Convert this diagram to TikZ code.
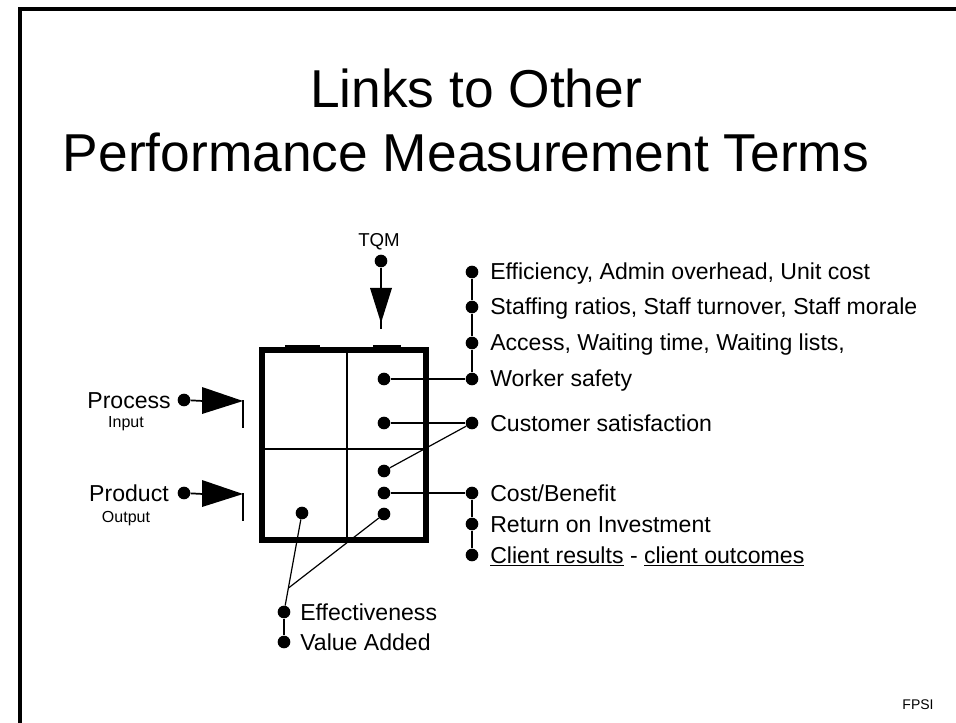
\documentclass[tikz,border=0pt]{standalone}
\usepackage{fontspec}
\setmainfont{Liberation Sans}
\begin{document}
\begin{tikzpicture}[x=0.75pt,y=-0.75pt,
  dot/.style={circle,fill=black,inner sep=0pt,minimum size=9.5pt},
  conn/.style={line width=1.3pt},
  thinconn/.style={line width=0.9pt},
  lbl/.style={inner sep=0pt,anchor=base west,font=\fontsize{17.3}{20}\selectfont},
  lblr/.style={inner sep=0pt,anchor=base east,font=\fontsize{17.3}{20}\selectfont},
  small/.style={inner sep=0pt,font=\fontsize{12}{14}\selectfont},
  titletext/.style={inner sep=0pt,anchor=base,font=\fontsize{40}{48}\selectfont}]
\useasboundingbox (0,0) rectangle (956,723);
\fill[white] (0,0) rectangle (956,723);
% frame
\draw[line width=3pt] (20,740) -- (20,9) -- (970,9);
% title
\node[titletext] (t1) at (476,108) {Links to Other};
\node[titletext] (t2) at (466,172) {Performance Measurement Terms};
% main box
\node[draw,line width=4.5pt,minimum width=123pt,minimum height=142.5pt,inner sep=0pt] (box) at (344,445) {};
\draw[line width=1.3pt] (347,350) -- (347,540);
\draw[line width=1.3pt] (262,449) -- (426,449);
\fill (285,345) rectangle (320,349);
\fill (373,345) rectangle (401,349);
% TQM
\node[inner sep=0pt,anchor=base,font=\fontsize{14}{16}\selectfont] (tqmlbl) at (379,247) {TQM};
\node[dot] (tq) at (381,261) {};
\coordinate (tqa) at (381,289);
\coordinate (tqb) at (381,329);
\draw[conn] (tq) -- (tqa);
\fill (370,288) -- (392,288) -- (381,323) -- cycle;
\draw[conn] (381,318) -- (tqb);
% Process / Input
\node[lblr] (proc) at (171,408) {Process};
\node[small] (inp) at (126,424) {Input};
\node[dot] (p) at (184,400) {};
\coordinate (pa) at (203,401);
\coordinate (pb) at (243,428);
\draw[conn] (p) -- (pa);
\fill (202,387) -- (243,401) -- (202,414) -- cycle;
\draw[conn] (243,400) -- (pb);
% Product / Output
\node[lblr] (prod) at (169,501) {Product};
\node[small] (outp) at (126,519) {Output};
\node[dot] (q) at (184,493) {};
\coordinate (qa) at (203,494);
\coordinate (qb) at (243,521);
\draw[conn] (q) -- (qa);
\fill (202,480) -- (243,494) -- (202,507) -- cycle;
\draw[conn] (243,493) -- (qb);
% inner dots
\node[dot] (a1) at (384,379) {};
\node[dot] (a2) at (384,423) {};
\node[dot] (a3) at (384,471) {};
\node[dot] (a4) at (384,493) {};
\node[dot] (a5) at (384,514) {};
\node[dot] (b1) at (302,513) {};
% right dots
\node[dot] (r1) at (472,272) {};
\node[dot] (r2) at (472,307) {};
\node[dot] (r3) at (472,343) {};
\node[dot] (r4) at (472,379) {};
\node[dot] (cs) at (472,423) {};
\node[dot] (cb) at (472,493) {};
\node[dot] (roi) at (472,524) {};
\node[dot] (cr) at (472,555) {};
% bottom dots
\node[dot] (ef) at (284,612) {};
\node[dot] (va) at (284,642) {};
\coordinate (j) at (288.5,588);
% right labels
\node[lbl] (l1) at (490,280) {Efficiency, Admin overhead, Unit cost};
\node[lbl] (l2) at (490,315) {Staffing ratios, Staff turnover, Staff morale};
\node[lbl] (l3) at (490,351) {Access, Waiting time, Waiting lists,};
\node[lbl] (l4) at (490,387) {Worker safety};
\node[lbl] (l5) at (490,431) {Customer satisfaction};
\node[lbl] (l6) at (490,501) {Cost/Benefit};
\node[lbl] (l7) at (490,532) {Return on Investment};
\node[lbl] (l8) at (490,563) {\underline{Client results} - \underline{client outcomes}};
\node[lbl] (l9) at (300,620) {Effectiveness};
\node[lbl] (l10) at (300,650) {Value Added};
% connectors
\draw[conn] (r1) -- (r2) -- (r3) -- (r4);
\draw[conn] (a1) -- (r4);
\draw[conn] (a2) -- (cs);
\draw[thinconn] (a3) -- (cs);
\draw[conn] (a4) -- (cb);
\draw[conn] (cb) -- (roi) -- (cr);
\draw[thinconn] (b1) -- (ef);
\draw[thinconn] (a5) -- (j);
\draw[conn] (ef) -- (va);
% footer
\node[inner sep=0pt,anchor=base,font=\fontsize{10.5}{12}\selectfont] (fpsi) at (918,709) {FPSI};
\end{tikzpicture}
\end{document}
